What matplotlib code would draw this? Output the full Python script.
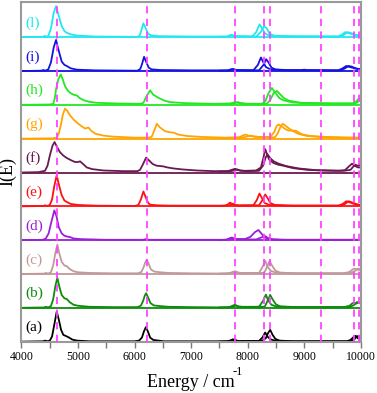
import numpy as np
import matplotlib
matplotlib.use("Agg")
import matplotlib.pyplot as plt

# panel labels, bottom to top, and their colours
labels = ["(a)", "(b)", "(c)", "(d)", "(e)", "(f)", "(g)", "(h)", "(i)", "(l)"]
colors = ["#000000", "#0c8c0c", "#c09a9a", "#9a20d8", "#ff1010",
          "#6a1a50", "#ffa500", "#22e822", "#1414e0", "#20e8f0"]

# experimental band positions (dashed lines)
bands = [4623, 6215, 7779, 8292, 8386, 9296, 9873, 9961]

# spectra: (energy, intensity) pairs
# curve A covers the whole range, curve B the high-energy part
spec_a = [(4000, 0), (4380, 0.01), (4420, 0.03), (4460, 0.01), (4500, 0.03), (4540, 0.15), (4580, 0.5),
          (4623, 0.89), (4660, 0.65), (4700, 0.35), (4740, 0.2), (4780, 0.17), (4830, 0.13), (4900, 0.06),
          (4980, 0.03), (5200, 0.01), (6000, 0.01), (6080, 0.03), (6130, 0.12), (6165, 0.3), (6200, 0.43),
          (6235, 0.3), (6275, 0.12), (6330, 0.05), (6420, 0.03), (6520, 0.01), (7650, 0.01), (7700, 0.04),
          (7740, 0.07), (7780, 0.03), (7850, 0.01), (8200, 0.02), (8260, 0.12), (8310, 0.27), (8350, 0.15),
          (8400, 0.07), (8480, 0.03), (8700, 0.01), (9750, 0.01), (9820, 0.05), (9880, 0.15), (9910, 0.17),
          (9950, 0.1), (10000, 0.05)]
spec_a2 = [(7500, 0), (7720, 0.02), (7770, 0.06), (7820, 0.02), (8250, 0.02), (8320, 0.1), (8360, 0.25),
           (8398, 0.35), (8440, 0.2), (8490, 0.08), (8560, 0.03), (8800, 0.01), (9800, 0.01), (9880, 0.06),
           (9930, 0.15), (9960, 0.17), (10000, 0.1)]

spec_b = [(4000, 0), (4400, 0.01), (4430, 0.03), (4470, 0.01), (4520, 0.05), (4560, 0.25), (4600, 0.65),
          (4634, 0.89), (4670, 0.62), (4710, 0.38), (4760, 0.28), (4800, 0.26), (4850, 0.17), (4920, 0.09),
          (5000, 0.06), (5200, 0.03), (5600, 0.02), (6050, 0.02), (6110, 0.06), (6150, 0.2), (6180, 0.36),
          (6204, 0.43), (6240, 0.3), (6280, 0.14), (6340, 0.07), (6450, 0.05), (6600, 0.03), (7000, 0.02),
          (7650, 0.01), (7720, 0.05), (7770, 0.09), (7830, 0.04), (7950, 0.02), (8200, 0.03), (8270, 0.2),
          (8322, 0.39), (8360, 0.22), (8420, 0.09), (8500, 0.04), (8800, 0.02), (9700, 0.02), (9800, 0.06),
          (9850, 0.13), (9873, 0.15), (9910, 0.12), (9950, 0.15), (10000, 0.13)]
spec_b2 = [(7500, 0.01), (7740, 0.03), (7790, 0.07), (7850, 0.03), (8300, 0.03), (8350, 0.2), (8398, 0.38),
           (8440, 0.25), (8500, 0.1), (8580, 0.04), (8900, 0.02), (9800, 0.02), (9880, 0.08), (9932, 0.17),
           (9970, 0.15), (10000, 0.14)]

spec_c = [(4000, 0), (4400, 0.01), (4430, 0.03), (4470, 0.01), (4520, 0.05), (4560, 0.25), (4600, 0.63),
          (4634, 0.87), (4670, 0.6), (4710, 0.36), (4760, 0.25), (4800, 0.23), (4850, 0.15), (4920, 0.08),
          (5000, 0.05), (5200, 0.03), (5600, 0.02), (6060, 0.02), (6120, 0.06), (6160, 0.2), (6190, 0.35),
          (6215, 0.42), (6250, 0.3), (6290, 0.13), (6350, 0.07), (6450, 0.05), (6600, 0.03), (7000, 0.02),
          (7650, 0.01), (7720, 0.05), (7779, 0.08), (7830, 0.04), (7950, 0.02), (8200, 0.03), (8260, 0.2),
          (8310, 0.39), (8350, 0.22), (8410, 0.09), (8500, 0.04), (8800, 0.02), (9700, 0.02), (9800, 0.06),
          (9860, 0.14), (9900, 0.16), (9940, 0.12), (10000, 0.12)]
spec_c2 = [(7500, 0.01), (7740, 0.03), (7790, 0.06), (7850, 0.03), (8290, 0.03), (8340, 0.2), (8386, 0.38),
           (8430, 0.25), (8490, 0.1), (8570, 0.04), (8900, 0.02), (9800, 0.02), (9890, 0.08), (9950, 0.16),
           (9980, 0.15), (10000, 0.14)]

spec_d = [(4000, 0), (4380, 0.01), (4430, 0.05), (4480, 0.2), (4530, 0.55), (4581, 0.88), (4620, 0.7),
          (4660, 0.38), (4711, 0.2), (4760, 0.13), (4820, 0.1), (4860, 0.09), (4920, 0.05), (5050, 0.03),
          (5500, 0.01), (6150, 0.01), (6200, 0.03), (6250, 0.01), (7620, 0.01), (7690, 0.06), (7740, 0.03),
          (7950, 0.03), (8050, 0.1), (8130, 0.24), (8191, 0.3), (8240, 0.2), (8300, 0.08), (8380, 0.03),
          (8600, 0.01), (10000, 0.01)]
spec_d2 = [(7500, 0), (7650, 0.02), (7720, 0.08), (7780, 0.03), (8150, 0.02), (8240, 0.08), (8310, 0.12),
           (8360, 0.06), (8450, 0.02), (8700, 0.01), (10000, 0.01)]

spec_e = [(4000, 0), (4380, 0.01), (4416, 0.03), (4450, 0.01), (4500, 0.04), (4540, 0.2), (4580, 0.6),
          (4623, 0.92), (4660, 0.65), (4711, 0.33), (4760, 0.17), (4800, 0.13), (4870, 0.07), (5005, 0.04),
          (5300, 0.02), (6000, 0.01), (6067, 0.04), (6110, 0.2), (6156, 0.44), (6200, 0.25), (6240, 0.1),
          (6274, 0.05), (6400, 0.03), (6600, 0.02), (7600, 0.02), (7650, 0.06), (7690, 0.11), (7740, 0.05),
          (7850, 0.02), (8100, 0.03), (8160, 0.18), (8209, 0.38), (8250, 0.25), (8300, 0.1), (8380, 0.04),
          (8700, 0.02), (9600, 0.02), (9680, 0.07), (9743, 0.15), (9800, 0.12), (9900, 0.06), (10000, 0.03)]
spec_e2 = [(7500, 0.01), (7680, 0.03), (7740, 0.08), (7800, 0.03), (8200, 0.03), (8260, 0.18), (8310, 0.35),
           (8350, 0.25), (8400, 0.1), (8480, 0.04), (8800, 0.02), (9650, 0.02), (9720, 0.07), (9784, 0.15),
           (9840, 0.12), (9930, 0.06), (10000, 0.04)]

spec_f = [(4000, 0), (4300, 0.01), (4416, 0.05), (4460, 0.2), (4504, 0.52), (4550, 0.8), (4585, 0.9),
          (4630, 0.75), (4681, 0.6), (4740, 0.5), (4800, 0.43), (4880, 0.36), (4947, 0.31), (5000, 0.31),
          (5035, 0.33), (5090, 0.25), (5154, 0.15), (5250, 0.1), (5448, 0.06), (5800, 0.04), (6050, 0.04),
          (6097, 0.08), (6150, 0.25), (6204, 0.44), (6260, 0.35), (6320, 0.25), (6392, 0.2), (6460, 0.19),
          (6510, 0.18), (6580, 0.15), (6687, 0.12), (6850, 0.09), (7100, 0.06), (7400, 0.04), (7650, 0.04),
          (7720, 0.08), (7779, 0.11), (7830, 0.07), (7950, 0.05), (8150, 0.06), (8234, 0.15), (8280, 0.45),
          (8310, 0.69), (8340, 0.55), (8380, 0.38), (8457, 0.28), (8540, 0.23), (8634, 0.2), (8800, 0.13),
          (9047, 0.08), (9300, 0.06), (9600, 0.05), (9720, 0.07), (9790, 0.18), (9845, 0.26), (9890, 0.2),
          (9950, 0.15), (10000, 0.15)]
spec_f2 = [(7500, 0.03), (7700, 0.04), (7760, 0.06), (7820, 0.09), (7870, 0.05), (8000, 0.04), (8200, 0.05),
           (8270, 0.2), (8320, 0.45), (8350, 0.54), (8400, 0.42), (8460, 0.33), (8550, 0.26), (8680, 0.19),
           (8900, 0.12), (9200, 0.07), (9700, 0.05), (9820, 0.08), (9870, 0.18), (9903, 0.23), (9950, 0.2),
           (10000, 0.22)]

spec_g = [(4000, 0), (4550, 0.01), (4623, 0.03), (4660, 0.15), (4694, 0.39), (4730, 0.7), (4770, 0.89),
          (4810, 0.82), (4858, 0.69), (4930, 0.55), (5005, 0.44), (5070, 0.36), (5124, 0.3), (5183, 0.33),
          (5230, 0.24), (5301, 0.15), (5450, 0.09), (5625, 0.06), (6000, 0.03), (6250, 0.03), (6304, 0.06),
          (6350, 0.25), (6393, 0.44), (6450, 0.33), (6540, 0.22), (6620, 0.19), (6687, 0.18), (6780, 0.12),
          (6924, 0.08), (7200, 0.05), (7600, 0.03), (7850, 0.04), (7920, 0.1), (7970, 0.12), (8030, 0.08),
          (8200, 0.05), (8400, 0.05), (8470, 0.2), (8510, 0.37), (8545, 0.42), (8590, 0.38), (8650, 0.3),
          (8720, 0.24), (8780, 0.24), (8830, 0.2), (8900, 0.14), (9050, 0.08), (9300, 0.05), (9700, 0.03),
          (10000, 0.03)]
spec_g2 = [(7500, 0.02), (7900, 0.03), (8000, 0.07), (8060, 0.09), (8120, 0.06), (8300, 0.04), (8480, 0.04),
           (8530, 0.15), (8580, 0.35), (8620, 0.44), (8670, 0.38), (8740, 0.29), (8800, 0.23), (8841, 0.24),
           (8890, 0.2), (8960, 0.13), (9100, 0.08), (9400, 0.05), (9800, 0.03), (10000, 0.03)]

spec_h = [(4000, 0), (4500, 0.01), (4563, 0.03), (4590, 0.2), (4611, 0.46), (4650, 0.75), (4694, 0.9),
          (4730, 0.75), (4770, 0.55), (4820, 0.42), (4858, 0.36), (4920, 0.3), (4977, 0.28), (5030, 0.2),
          (5094, 0.14), (5200, 0.09), (5330, 0.06), (5700, 0.04), (6100, 0.03), (6156, 0.06), (6210, 0.25),
          (6274, 0.43), (6330, 0.3), (6421, 0.21), (6520, 0.13), (6628, 0.08), (6900, 0.05), (7400, 0.03),
          (7700, 0.04), (7780, 0.08), (7830, 0.06), (7950, 0.03), (8250, 0.03), (8310, 0.1), (8370, 0.35),
          (8428, 0.5), (8480, 0.38), (8560, 0.2), (8640, 0.13), (8693, 0.11), (8800, 0.07), (9000, 0.05),
          (9500, 0.04), (9850, 0.04), (9920, 0.1), (9970, 0.2), (10000, 0.23)]
spec_h2 = [(7500, 0.02), (7750, 0.04), (7830, 0.08), (7880, 0.05), (8000, 0.03), (8340, 0.03), (8400, 0.15),
           (8460, 0.35), (8516, 0.41), (8570, 0.32), (8640, 0.2), (8720, 0.13), (8800, 0.1), (8950, 0.06),
           (9500, 0.04), (9900, 0.04), (9960, 0.1), (10000, 0.18)]

spec_i = [(4000, 0), (4350, 0.01), (4386, 0.03), (4420, 0.01), (4474, 0.05), (4520, 0.25), (4570, 0.7),
          (4611, 0.92), (4650, 0.65), (4711, 0.28), (4760, 0.18), (4800, 0.15), (4870, 0.08), (4980, 0.04),
          (5300, 0.02), (6050, 0.01), (6100, 0.06), (6130, 0.2), (6168, 0.42), (6210, 0.25), (6250, 0.1),
          (6300, 0.05), (6450, 0.03), (7000, 0.02), (7650, 0.02), (7720, 0.06), (7770, 0.03), (8100, 0.02),
          (8180, 0.18), (8234, 0.4), (8270, 0.28), (8320, 0.12), (8400, 0.05), (8700, 0.03), (8950, 0.03),
          (9000, 0.04), (9050, 0.03), (9600, 0.02), (9680, 0.08), (9743, 0.15), (9800, 0.12), (9900, 0.08),
          (10000, 0.05)]
spec_i2 = [(7500, 0.01), (7700, 0.02), (7750, 0.06), (7800, 0.03), (8200, 0.02), (8280, 0.18), (8327, 0.35),
           (8370, 0.25), (8420, 0.1), (8500, 0.04), (8800, 0.02), (9650, 0.02), (9720, 0.08), (9784, 0.15),
           (9840, 0.13), (9920, 0.07), (10000, 0.05)]

spec_l = [(4000, 0), (4380, 0.01), (4416, 0.04), (4450, 0.01), (4474, 0.04), (4520, 0.25), (4570, 0.72),
          (4611, 0.92), (4650, 0.68), (4711, 0.33), (4760, 0.18), (4800, 0.13), (4880, 0.08), (4977, 0.05),
          (5300, 0.02), (6050, 0.01), (6090, 0.05), (6120, 0.2), (6156, 0.41), (6200, 0.25), (6240, 0.1),
          (6300, 0.05), (6450, 0.03), (7000, 0.02), (7640, 0.02), (7700, 0.07), (7750, 0.03), (8080, 0.02),
          (8150, 0.15), (8209, 0.38), (8250, 0.28), (8300, 0.12), (8380, 0.05), (8700, 0.03), (9600, 0.02),
          (9670, 0.08), (9726, 0.15), (9790, 0.12), (9900, 0.06), (10000, 0.04)]
spec_l2 = [(7500, 0.01), (7680, 0.02), (7730, 0.06), (7790, 0.03), (8150, 0.02), (8230, 0.15), (8292, 0.33),
           (8340, 0.25), (8390, 0.1), (8470, 0.04), (8800, 0.02), (9650, 0.02), (9710, 0.08), (9766, 0.15),
           (9830, 0.12), (9930, 0.06), (10000, 0.04)]

spectra = [(spec_a, spec_a2), (spec_b, spec_b2), (spec_c, spec_c2), (spec_d, spec_d2), (spec_e, spec_e2),
           (spec_f, spec_f2), (spec_g, spec_g2), (spec_h, spec_h2), (spec_i, spec_i2), (spec_l, spec_l2)]

plt.rcParams['font.family'] = ['Liberation Serif', 'DejaVu Serif']

fig = plt.figure(figsize=(3.77, 3.93), dpi=100)
ax = fig.add_axes([0.057, 0.129, 0.9, 0.8667])

for k, (curves, col, lab) in enumerate(zip(spectra, colors, labels)):
    ax.axhline(k, color=col, lw=1.3, zorder=2)
    for c in curves:
        arr = np.array(c, dtype=float)
        ax.plot(arr[:, 0], arr[:, 1] + k, color=col, lw=1.3, zorder=2)
    ax.text(4060, k + 0.42, lab, color=col, fontsize=11, ha='left', va='center')

for b in bands:
    ax.axvline(b, color='#ff44ff', lw=1.3, ls=(0, (4, 3)), zorder=3)

ax.set_xlim(4000, 10000)
ax.set_ylim(-0.02, 10.05)
ax.set_xticks(np.arange(4000, 10001, 1000))
ax.set_xticks(np.arange(4500, 10000, 1000), minor=True)
ax.set_yticks([])
ax.tick_params(axis='x', which='both', direction='out', length=4, width=1, color='#777777',
               labelsize=8.5, pad=2)
for s in ax.spines.values():
    s.set_color('#999999')
    s.set_linewidth(1.5)

# axis titles; the -1 exponent sits high as in the original
fig.text(0.505, 0.015, 'Energy / cm', fontsize=13, ha='center', va='baseline')
fig.text(0.617, 0.053, '-1', fontsize=9, ha='left', va='center')
ax.set_ylabel('I(E)', fontsize=13, labelpad=4)

fig.savefig('out.png', dpi=100)
